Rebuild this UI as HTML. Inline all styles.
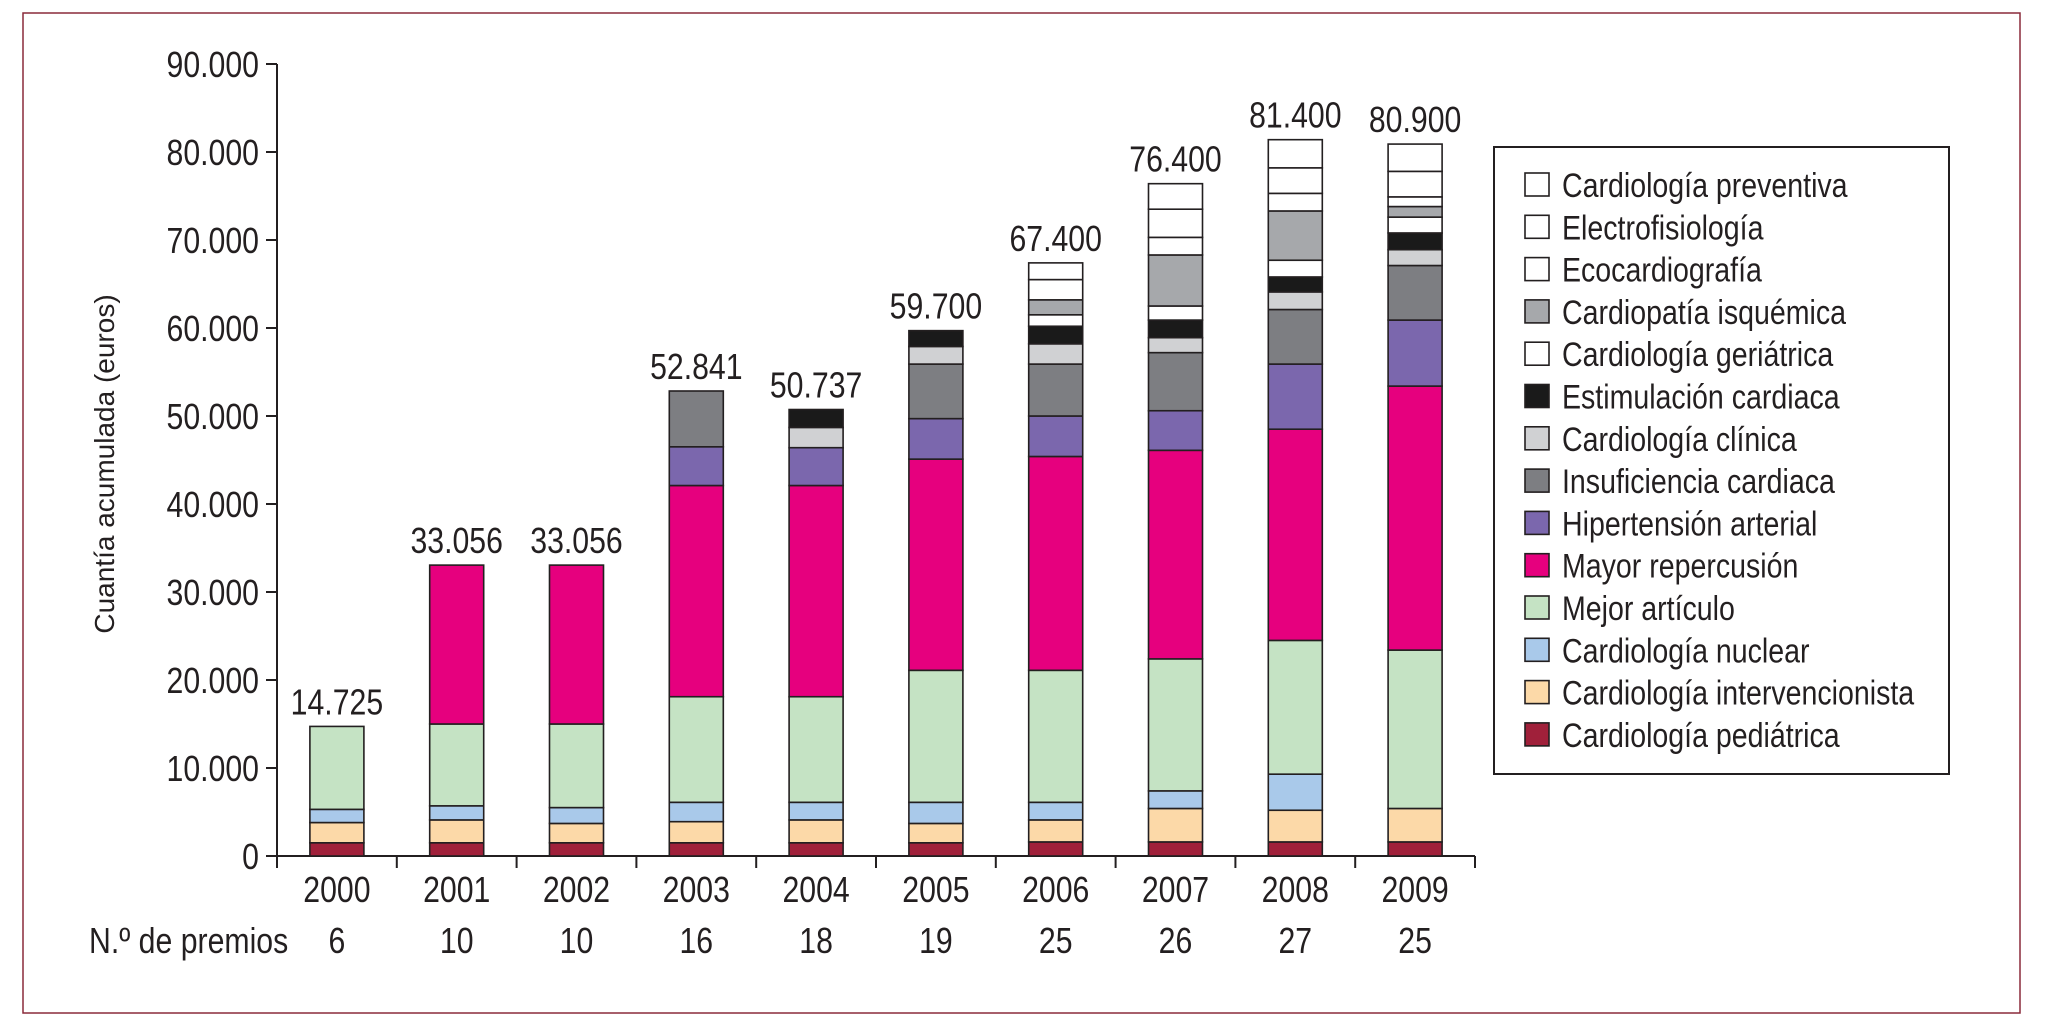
<!DOCTYPE html>
<html><head><meta charset="utf-8">
<style>
html,body{margin:0;padding:0;background:#fff;}
svg{display:block;}
text{font-family:"Liberation Sans",sans-serif;fill:#231f20;}
</style></head>
<body>
<svg id="chart" width="2050" height="1025" xmlns="http://www.w3.org/2000/svg">
<rect x="23" y="13" width="1997" height="1000" fill="none" stroke="#8a2a3a" stroke-width="1.5"/>
<g id="plot"></g>
</svg>
<script>
const years = ["2000","2001","2002","2003","2004","2005","2006","2007","2008","2009"];
const premios = ["6","10","10","16","18","19","25","26","27","25"];
const totalLabels = ["14.725","33.056","33.056","52.841","50.737","59.700","67.400","76.400","81.400","80.900"];
const seriesNames = ["Cardiología pediátrica","Cardiología intervencionista","Cardiología nuclear","Mejor artículo","Mayor repercusión","Hipertensión arterial","Insuficiencia cardiaca","Cardiología clínica","Estimulación cardiaca","Cardiología geriátrica","Cardiopatía isquémica","Ecocardiografía","Electrofisiología","Cardiología preventiva"];
const seriesColors = ["#a0203a","#fcd9a8","#a9c9ea","#c5e3c4","#e6007e","#7b67ad","#7d7e82","#d0d1d3","#1a1a1a","#ffffff","#a6a8ab","#ffffff","#ffffff","#ffffff"];
const pediatrica = [1500,1500,1500,1500,1500,1500,1600,1600,1600,1600];
const intervencionista = [2300,2600,2200,2400,2600,2200,2500,3800,3600,3800];
const nuclear = [1500,1600,1800,2200,2000,2400,2000,2000,4100,0];
const mejorArticulo = [9425,9300,9500,12000,12000,15000,15000,15000,15200,18000];
const mayorRepercusion = [0,18056,18056,24000,24000,24000,24300,23700,24000,30000];
const hipertension = [0,0,0,4400,4300,4600,4600,4500,7400,7500];
const insuficiencia = [0,0,0,6341,0,6200,5900,6600,6200,6200];
const clinica = [0,0,0,0,2300,2000,2300,1700,2000,1800];
const estimulacion = [0,0,0,0,2037,1800,2000,2000,1700,1900];
const geriatrica = [0,0,0,0,0,0,1300,1600,1900,1800];
const isquemica = [0,0,0,0,0,0,1700,5800,5600,1200];
const ecocardiografia = [0,0,0,0,0,0,2300,2000,2000,1100];
const electrofisiologia = [0,0,0,0,0,0,1900,3200,2900,2900];
const preventiva = [0,0,0,0,0,0,0,2900,3200,3100];
const yTicks = [0,10000,20000,30000,40000,50000,60000,70000,80000,90000];
const yTickLabels = ["0","10.000","20.000","30.000","40.000","50.000","60.000","70.000","80.000","90.000"];

const series = [pediatrica,intervencionista,nuclear,mejorArticulo,mayorRepercusion,hipertension,insuficiencia,clinica,estimulacion,geriatrica,isquemica,ecocardiografia,electrofisiologia,preventiva];
const NS="http://www.w3.org/2000/svg";
const g=document.getElementById('plot');
const X0=277,X1=1475,Y0=856,YTOP=64,YMAX=90000;
const band=(X1-X0)/years.length, barW=54;
const FS=36, SX=0.84;
function y(v){return Y0-(v/YMAX)*(Y0-YTOP);}
function xc(i){return X0+band*(i+0.5);}
function el(tag,attrs,parent){const e=document.createElementNS(NS,tag);for(const k in attrs)e.setAttribute(k,attrs[k]);(parent||g).appendChild(e);return e;}
function txt(x,yy,s,size,anchor,sx){
  const t=el('text',{x:0,y:0,'font-size':size,'text-anchor':anchor,transform:`translate(${x},${yy}) scale(${sx},1)`});
  t.textContent=s;return t;}

const ax=el('line',{x1:X0,y1:YTOP,x2:X0,y2:Y0,stroke:'#231f20','stroke-width':2});


const bx=el('line',{x1:X0,y1:Y0,x2:X1,y2:Y0,stroke:'#231f20','stroke-width':2});


yTicks.forEach((v,i)=>{
  const tk=el('line',{x1:X0-11,y1:y(v),x2:X0,y2:y(v),stroke:'#231f20','stroke-width':2});
  
  
  const t=txt(259,y(v)+13,yTickLabels[i],FS,'end',SX);
  
  
});
for(let i=0;i<=years.length;i++){
  const tk=el('line',{x1:X0+band*i,y1:Y0,x2:X0+band*i,y2:Y0+12,stroke:'#231f20','stroke-width':2});
  
  
}
const yt=el('text',{x:0,y:0,'font-size':28,'text-anchor':'middle',transform:'translate(114,464) rotate(-90)'});
yt.textContent='Cuantía acumulada (euros)';



years.forEach((yr,i)=>{
  let acc=0;
  series.forEach((s,k)=>{
    const v=s[i]; if(!v) return;
    const r=el('rect',{x:xc(i)-barW/2,y:y(acc+v),width:barW,height:y(acc)-y(acc+v),fill:seriesColors[k],stroke:'#231f20','stroke-width':1.6});
    
    
    acc+=v;
  });
  const tl=txt(xc(i),y(acc)-12,totalLabels[i],FS,'middle',SX);
  
  
  const xl=txt(xc(i),902,yr,FS,'middle',SX);
  
  
  const pl=txt(xc(i),953,premios[i],FS,'middle',SX);
  
  
});
const ph=txt(89,953,'N.º de premios',FS,'start',SX);



const lb=el('rect',{x:1494,y:147,width:455,height:627,fill:'#fff',stroke:'#231f20','stroke-width':2});


for(let j=0;j<seriesNames.length;j++){
  const k=seriesNames.length-1-j;
  const cy=185+j*42.3;
  const sw=el('rect',{x:1525,y:cy-12,width:24,height:23,fill:seriesColors[k],stroke:'#231f20','stroke-width':1.6});
  
  
  const lt=txt(1562,cy+12,seriesNames[k],34,'start',0.84);
  
  
}
</script>
</body></html>
